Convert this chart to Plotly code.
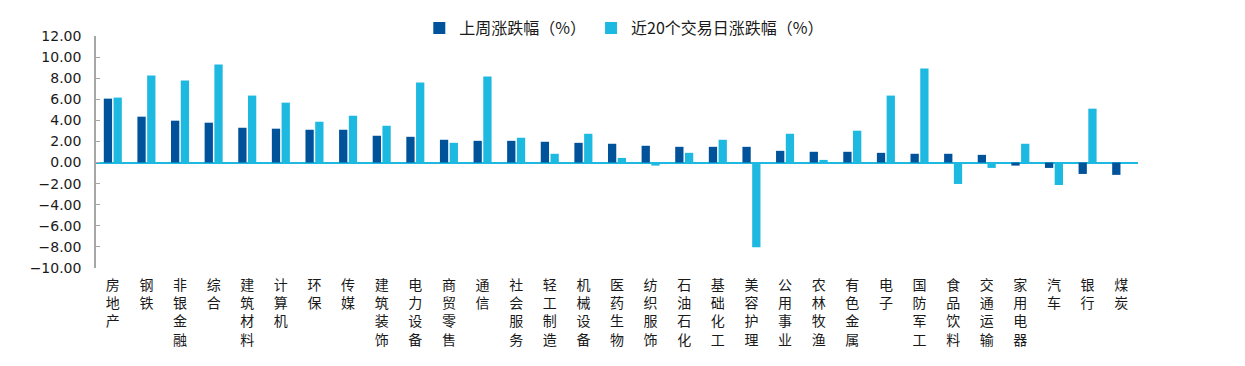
import plotly.graph_objects as go

categories = ["房地产", "钢铁", "非银金融", "综合", "建筑材料", "计算机", "环保", "传媒",
              "建筑装饰", "电力设备", "商贸零售", "通信", "社会服务", "轻工制造", "机械设备",
              "医药生物", "纺织服饰", "石油石化", "基础化工", "美容护理", "公用事业", "农林牧渔",
              "有色金属", "电子", "国防军工", "食品饮料", "交通运输", "家用电器", "汽车", "银行", "煤炭"]

week_change = [6.06, 4.35, 3.97, 3.78, 3.30, 3.21, 3.11, 3.11, 2.54, 2.44, 2.16, 2.06, 2.06,
               1.97, 1.87, 1.78, 1.59, 1.49, 1.49, 1.49, 1.11, 1.02, 1.02, 0.92, 0.83, 0.83,
               0.73, -0.29, -0.51, -1.08, -1.17]

d20_change = [6.16, 8.25, 7.78, 9.30, 6.35, 5.68, 3.87, 4.44, 3.49, 7.59, 1.87, 8.16, 2.35,
              0.83, 2.73, 0.44, -0.29, 0.92, 2.16, -8.03, 2.73, 0.25, 3.02, 6.35, 8.92, -2.03,
              -0.51, 1.78, -2.13, 5.11, 0.0]

series_names = ["上周涨跌幅（%）", "近20个交易日涨跌幅（%）"]
y_ticks = [12, 10, 8, 6, 4, 2, 0, -2, -4, -6, -8, -10]

tick_text = ["<br>".join(list(c)) for c in categories]

fig = go.Figure()
fig.add_trace(go.Bar(x=categories, y=week_change, name=series_names[0],
                     marker=dict(color="#00529B", line=dict(width=0))))
fig.add_trace(go.Bar(x=categories, y=d20_change, name=series_names[1],
                     marker=dict(color="#1EB9E1", line=dict(width=0))))

# page body adds an 8px offset, so the figure is sized to fit the 1245x366 window
fig.update_layout(
    width=1237, height=358,
    margin=dict(l=88, r=107, t=28, b=98, autoexpand=False),
    paper_bgcolor="white", plot_bgcolor="white",
    barmode="group", bargap=0.42, bargroupgap=0.15,
    font=dict(family="Noto Sans CJK SC, DejaVu Sans", color="#1a1a1a"),
    legend=dict(orientation="h", x=0.507, xanchor="center", xref="paper",
                y=0.991, yanchor="top", yref="container",
                font=dict(size=16, family="Noto Sans CJK SC", color="#1a1a1a"),
                traceorder="normal", bgcolor="rgba(0,0,0,0)"),
    showlegend=True,
)

fig.update_xaxes(
    tickmode="array", tickvals=categories, ticktext=tick_text,
    tickangle=0, showline=False, showgrid=False, ticks="", automargin=False,
    ticklabelstandoff=7,
    tickfont=dict(size=14, family="Noto Sans CJK SC", color="#1a1a1a"),
)

fig.update_yaxes(
    range=[-10, 12], tickmode="array", tickvals=y_ticks, tickformat=".2f",
    showgrid=False, showline=True, linecolor="#A6A6A6", linewidth=1.5,
    ticks="inside", ticklen=4, tickcolor="#A6A6A6", tickwidth=1, automargin=False,
    ticklabelstandoff=10,
    zeroline=True, zerolinecolor="#1EB9E1", zerolinewidth=2,
    tickfont=dict(size=14, family="DejaVu Sans", color="#1a1a1a"),
)

fig.write_html("out.html")
